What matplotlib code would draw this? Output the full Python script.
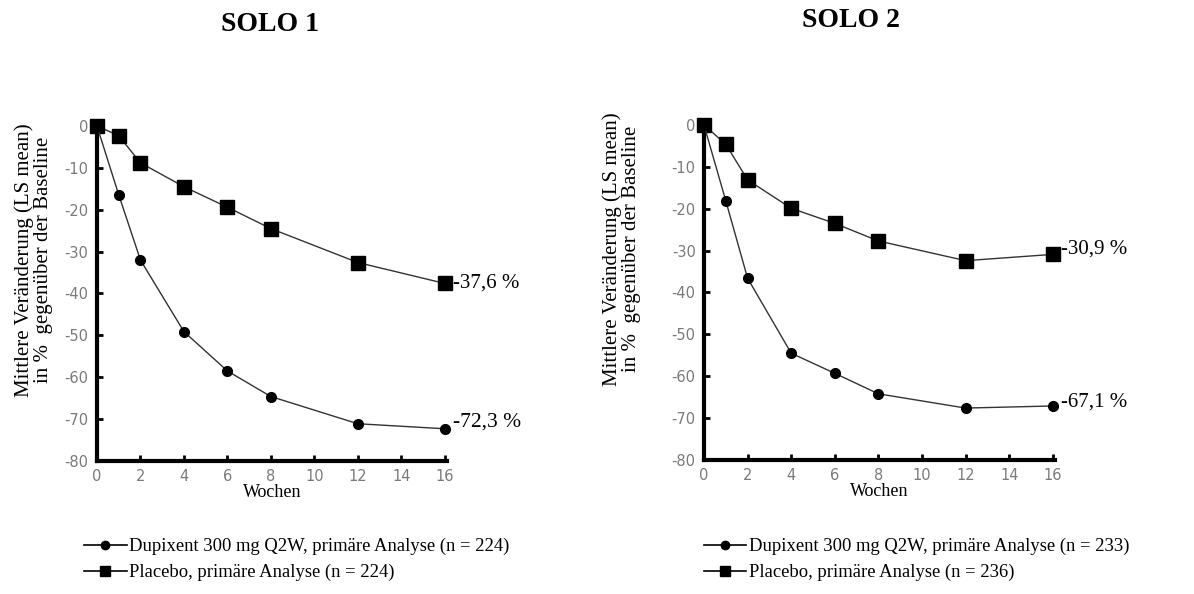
import matplotlib.pyplot as plt
from matplotlib.lines import Line2D

# Daten
wochen = [0, 1, 2, 4, 6, 8, 12, 16]

solo1_dupixent = [0, -16.4, -32.0, -49.1, -58.5, -64.6, -71.1, -72.3]
solo1_placebo = [0, -2.3, -8.8, -14.5, -19.4, -24.5, -32.6, -37.6]

solo2_dupixent = [0, -18.1, -36.6, -54.5, -59.3, -64.2, -67.6, -67.1]
solo2_placebo = [0, -4.6, -13.1, -19.9, -23.5, -27.7, -32.4, -30.9]

titel = ["SOLO 1", "SOLO 2"]
end_dupixent = ["-72,3 %", "-67,1 %"]
end_placebo = ["-37,6 %", "-30,9 %"]
n_dupixent = [224, 233]
n_placebo = [224, 236]

plt.rcParams["axes.unicode_minus"] = False
serif = "Liberation Serif"
tick_col = "#7a7a7a"

fig = plt.figure(figsize=(11.94, 5.94), dpi=100)

axes_pos = [[0.0812, 0.2239, 0.2931, 0.564], [0.5896, 0.2256, 0.294, 0.564]]
daten = [(solo1_dupixent, solo1_placebo), (solo2_dupixent, solo2_placebo)]
titel_pos = [(0.226, 0.958), (0.713, 0.965)]
legend_x = [0.064, 0.583]
ylabel_pos = [(-0.125, 0.6), (-0.18, 0.63)]
off_pla = [0, 4]
off_dup = [5, 3]

for i in range(2):
    ax = fig.add_axes(axes_pos[i])
    dup, pla = daten[i]
    ax.plot(wochen, pla, color="#333333", lw=1, marker="s", ms=10,
            mfc="black", mec="black", clip_on=False, zorder=3)
    ax.plot(wochen, dup, color="#333333", lw=1, marker="o", ms=7,
            mfc="black", mec="black", clip_on=False, zorder=3)

    ax.set_xlim(0, 16.1)
    ax.set_ylim(-80, 0)
    ax.set_xticks(range(0, 17, 2))
    ax.set_yticks(range(-80, 1, 10))
    ax.tick_params(direction="in", length=4, width=2, colors="black",
                   labelcolor=tick_col, labelsize=10.5)
    ax.tick_params(axis="y", pad=6)
    ax.tick_params(axis="x", pad=6)
    for s in ["top", "right"]:
        ax.spines[s].set_visible(False)
    for s in ["left", "bottom"]:
        ax.spines[s].set_linewidth(3)

    ax.set_xlabel("Wochen", fontfamily=serif, fontsize=13, labelpad=0)
    ax.set_ylabel("Mittlere Veränderung (LS mean)\nin %  gegenüber der Baseline",
                  fontfamily=serif, fontsize=15, linespacing=1.0)
    ax.yaxis.set_label_coords(*ylabel_pos[i])

    # Endwerte
    ax.annotate(end_placebo[i], (wochen[-1], pla[-1]), xytext=(6, off_pla[i]),
                textcoords="offset points", va="center", ha="left",
                fontfamily=serif, fontsize=15)
    ax.annotate(end_dupixent[i], (wochen[-1], dup[-1]), xytext=(6, off_dup[i]),
                textcoords="offset points", va="center", ha="left",
                fontfamily=serif, fontsize=15.5 if i == 0 else 15)

    fig.text(titel_pos[i][0], titel_pos[i][1], titel[i], ha="center", va="center",
             fontfamily=serif, fontsize=20, fontweight="bold")

    handles = [
        Line2D([], [], color="black", lw=1.2, marker="o", ms=6),
        Line2D([], [], color="black", lw=1.2, marker="s", ms=7),
    ]
    labels = [
        f"Dupixent 300 mg Q2W, primäre Analyse (n = {n_dupixent[i]})",
        f"Placebo, primäre Analyse (n = {n_placebo[i]})",
    ]
    fig.legend(handles, labels, loc="upper left", bbox_to_anchor=(legend_x[i], 0.1065),
               frameon=False, prop={"family": serif, "size": 13.4},
               handlelength=2.3, handletextpad=0.15, labelspacing=0.45, borderaxespad=0)

fig.savefig("out.png", dpi=100)
